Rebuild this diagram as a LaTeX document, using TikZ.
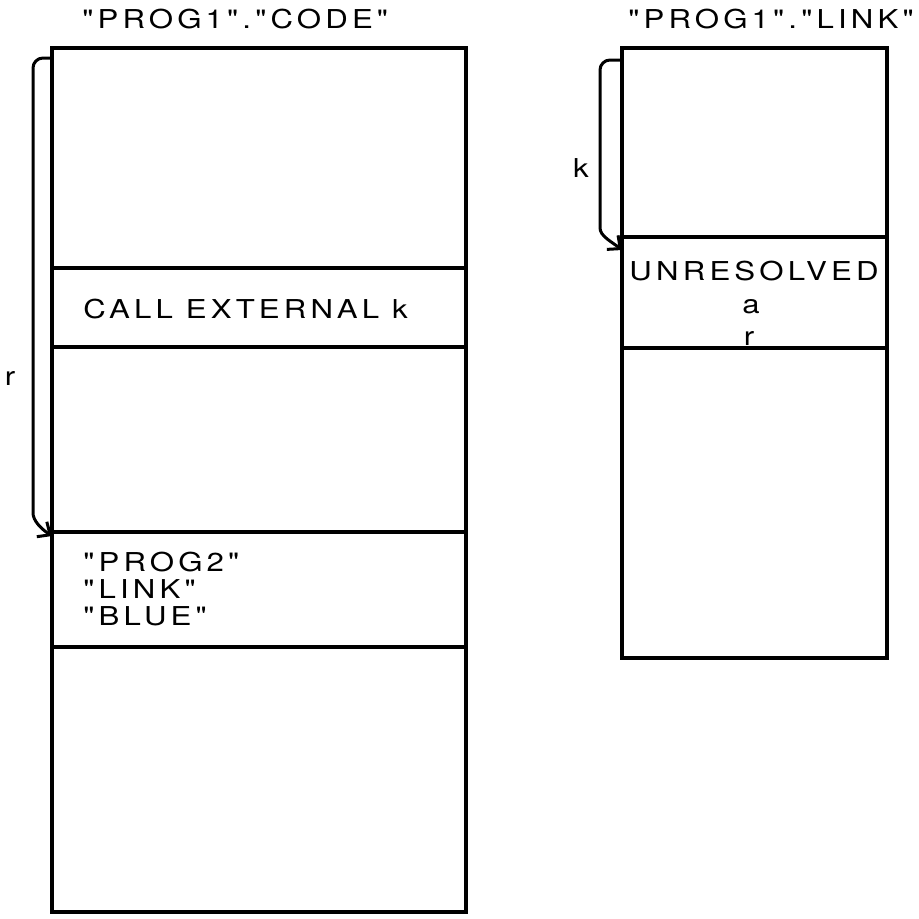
\documentclass[tikz,border=0pt]{standalone}
\usepackage{fontspec}
\newfontfamily\stencil{TeX Gyre Heros}[FakeStretch=1.2,LetterSpace=16]
\newcommand\dq{\symbol{34}}
\usepackage{tikz}
\usetikzlibrary{arrows.meta,positioning}

\begin{document}
\begin{tikzpicture}[x=0.5pt,y=-0.5pt,font=\stencil\fontsize{13}{15}\selectfont,
  cell/.style={draw,line width=1.8pt,outer sep=0pt,inner sep=0pt,minimum width=#1},
  txt/.style={inner sep=0pt},
  ptr/.style={line width=1.5pt,rounded corners=5pt,-{Straight Barb[length=5pt,width=9pt]}}]
\useasboundingbox (0,0) rectangle (919,918);

% "CODE" segment
\node[txt,anchor=base west] (codetitle) at (82,28) {\dq PROG1\dq.\dq CODE\dq};
\node[cell=207pt,minimum height=110pt,anchor=north west] (code1) at (52,48) {};
\node[cell=207pt,minimum height=39.5pt,below=0pt of code1] (code2) {};
\node[cell=207pt,minimum height=92.5pt,below=0pt of code2] (code3) {};
\node[cell=207pt,minimum height=57.5pt,below=0pt of code3] (code4) {};
\node[cell=207pt,minimum height=132.5pt,below=0pt of code4] (code5) {};

\node[txt,anchor=base west] (calltxt) at (83,318) {CALL EXTERNAL k};
\foreach \t [count=\i] in {PROG2,LINK,BLUE}
  \node[txt,anchor=base west] (ref\i) at (83,544+27*\i) {\dq\t\dq};

% "LINK" segment
\node[txt,anchor=base west] (linktitle) at (628,28) {\dq PROG1\dq.\dq LINK\dq};
\node[cell=132.5pt,minimum height=94.5pt,anchor=north west] (link1) at (622,48) {};
\node[cell=132.5pt,minimum height=55.5pt,below=0pt of link1] (link2) {};
\node[cell=132.5pt,minimum height=155pt,below=0pt of link2] (link3) {};

\node[txt,anchor=base] (unres) at (754,280) {UNRESOLVED};
\node[txt,anchor=base] (unresa) at (751,313) {a};
\node[txt,anchor=base] (unresr) at (749,345) {r};

% pointers
\draw[ptr] ([yshift=-5pt]code1.north west) -- ++(-19,0) -- ++(0,445)
  .. controls +(0,17) and +(-12,-8) .. ([yshift=-2pt]code4.north west);
\node[txt,anchor=base] (rlab) at (10,385) {r};

\draw[ptr] ([yshift=-6pt]link1.north west) -- ++(-22,0) -- ++(0,158)
  .. controls +(0,18) and +(-10,-8) .. ([yshift=-6.5pt]link2.north west);
\node[txt,anchor=base] (klab) at (581,177) {k};
\end{tikzpicture}
\end{document}
